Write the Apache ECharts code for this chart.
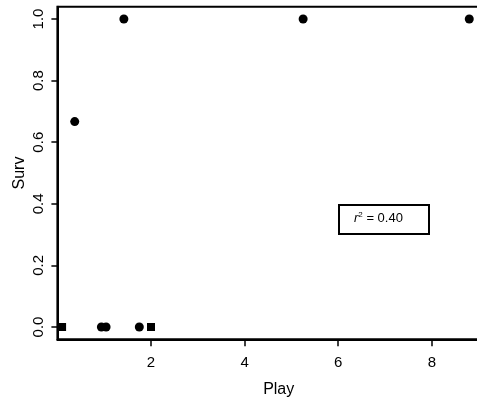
<!DOCTYPE html>
<html>
<head>
<meta charset="utf-8">
<script src="https://cdn.jsdelivr.net/npm/echarts@6/dist/echarts.min.js"></script>
<style>
html,body{margin:0;padding:0;background:#fff;}
#c{width:477px;height:404px;}
</style>
</head>
<body>
<div id="c"></div>
<script>
// Data
const circleX = [0.37, 1.42, 5.25, 8.8, 0.94, 1.04, 1.75];
const circleY = [0.667, 1.0, 1.0, 1.0, 0, 0, 0];
const squareX = [0.1, 2.0];
const squareY = [0, 0];
const xTicks = [2, 4, 6, 8];
const yTicks = [0, 0.2, 0.4, 0.6, 0.8, 1.0];
const xName = 'Play';
const yName = 'Surv';
const r2Value = '0.40';

const X_MIN = 0, X_MAX = 9.2, Y_MIN = -0.04, Y_MAX = 1.04;
const FONT = '"Liberation Sans", Arial, Helvetica, sans-serif';
const chart = echarts.init(document.getElementById('c'), null, {renderer: 'canvas'});

const circles = circleX.map((x, i) => [x, circleY[i]]);
const squares = squareX.map((x, i) => [x, squareY[i]]);

// main plotting grid
const G = {left: 57.4, top: 6.7, width: 430.6, height: 332.6};
const pxPerX = G.width / (X_MAX - X_MIN);
const pxPerY = G.height / (Y_MAX - Y_MIN);
// helper grids aligned with the main one so ticks start exactly at the first tick value
const xT0 = xTicks[0], yT0 = yTicks[0], yT1 = yTicks[yTicks.length - 1];
const gridX = {left: G.left + (xT0 - X_MIN) * pxPerX, top: G.top,
  width: (X_MAX - xT0) * pxPerX, height: G.height};
const gridY = {left: G.left, top: G.top + (Y_MAX - yT1) * pxPerY,
  width: G.width, height: (yT1 - yT0) * pxPerY};

const hidden = {show: false};
const tickStyle = {show: true, inside: false, lineStyle: {color: '#000', width: 1.5}};
const labelStyle = {fontFamily: FONT, fontSize: 15, color: '#000'};

chart.setOption({
  animation: false,
  backgroundColor: '#fff',
  grid: [
    Object.assign({show: true, outerBoundsMode: 'none', containLabel: false,
      borderColor: '#000', borderWidth: 2, backgroundColor: 'transparent'}, G),
    Object.assign({show: false, outerBoundsMode: 'none', containLabel: false}, gridX),
    Object.assign({show: false, outerBoundsMode: 'none', containLabel: false}, gridY)
  ],
  xAxis: [
    {gridIndex: 0, type: 'value', min: X_MIN, max: X_MAX,
     name: xName, nameLocation: 'middle', nameGap: 42,
     nameTextStyle: {fontFamily: FONT, fontSize: 16, color: '#000', padding: [0, 0, 0, 12]},
     splitLine: hidden, axisTick: hidden, axisLabel: hidden,
     axisLine: {show: true, onZero: false, lineStyle: {color: '#000', width: 2}}},
    {gridIndex: 1, type: 'value', min: xT0, max: X_MAX, interval: xTicks[1] - xTicks[0],
     splitLine: hidden, axisLine: {show: false, onZero: false},
     axisTick: Object.assign({length: 7}, tickStyle),
     axisLabel: Object.assign({margin: 16, showMaxLabel: false,
       formatter: v => (xTicks.indexOf(v) >= 0 ? String(v) : '')}, labelStyle)},
    {gridIndex: 2, type: 'value', min: X_MIN, max: X_MAX, show: false}
  ],
  yAxis: [
    {gridIndex: 0, type: 'value', min: Y_MIN, max: Y_MAX,
     name: yName, nameLocation: 'middle', nameGap: 30,
     nameTextStyle: {fontFamily: FONT, fontSize: 16, color: '#000'},
     splitLine: hidden, axisTick: hidden, axisLabel: hidden,
     axisLine: {show: true, onZero: false, lineStyle: {color: '#000', width: 2}}},
    {gridIndex: 1, type: 'value', min: Y_MIN, max: Y_MAX, show: false},
    {gridIndex: 2, type: 'value', min: yT0, max: yT1, interval: yTicks[1] - yTicks[0],
     splitLine: hidden, axisLine: {show: false, onZero: false},
     axisTick: Object.assign({length: 6}, tickStyle),
     axisLabel: Object.assign({margin: 11, rotate: 90,
       formatter: v => Number(v).toFixed(1)}, labelStyle)}
  ],
  series: [
    {type: 'scatter', xAxisIndex: 0, yAxisIndex: 0, data: circles, symbol: 'circle', symbolSize: 9,
     itemStyle: {color: '#000', opacity: 1}, clip: false},
    {type: 'scatter', xAxisIndex: 0, yAxisIndex: 0, data: squares, symbol: 'rect', symbolSize: 8,
     itemStyle: {color: '#000', opacity: 1}, clip: false}
  ],
  graphic: [
    {type: 'rect', left: 338, top: 204, shape: {width: 90, height: 29},
     style: {fill: '#fff', stroke: '#000', lineWidth: 2}, z: 10},
    {type: 'text', left: 354, top: 211, z: 11,
     style: {
       text: '{r|r}{s|2}{n| = ' + r2Value + '}',
       rich: {
         r: {fontFamily: FONT, fontSize: 13, fontStyle: 'italic', fill: '#000', lineHeight: 15},
         s: {fontFamily: FONT, fontSize: 8, fill: '#000', verticalAlign: 'top', lineHeight: 15},
         n: {fontFamily: FONT, fontSize: 13, fill: '#000', lineHeight: 15}
       }
     }}
  ]
});
</script>
</body>
</html>
